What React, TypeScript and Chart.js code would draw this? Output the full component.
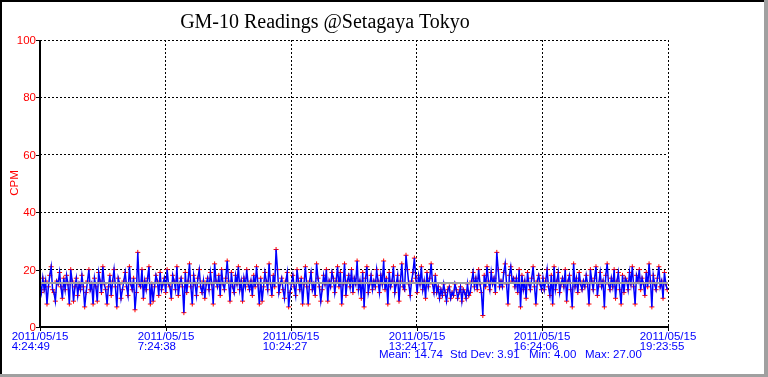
import { useEffect, useRef } from "react";
import { Chart, registerables } from "chart.js";
Chart.register(...registerables);

const TITLE = "GM-10 Readings @Setagaya Tokyo";
const Y_LABEL = "CPM";
const Y_TICKS = [0, 20, 40, 60, 80, 100];
const TICK_SECONDS = [0, 10789, 21578, 32368, 43157, 53946];
const TICK_DATES = ["2011/05/15", "2011/05/15", "2011/05/15", "2011/05/15", "2011/05/15", "2011/05/15"];
const TICK_TIMES = ["4:24:49", "7:24:38", "10:24:27", "13:24:17", "16:24:06", "19:23:55"];
const STAT_TEXTS = ["Mean: 14.74", "Std Dev: 3.91", "Min: 4.00", "Max: 27.00"];
const AVG_LINE = 15.3;
const SAMPLE_INTERVAL_S = 120;

const CPM = [
  15,12,17,13,16,8,14,18,21,13,12,9,16,15,19,14,10,17,13,18,15,8,20,16,9,14,17,11,15,13,
  18,14,7,12,16,20,13,15,8,17,14,9,19,16,12,21,15,13,8,14,18,11,16,20,14,7,17,15,10,13,
  16,19,14,11,21,15,13,17,6,12,26,15,14,20,10,16,13,17,21,8,15,9,14,18,16,11,19,13,15,17,
  12,20,15,14,10,18,16,13,21,11,15,17,14,5,19,12,16,22,14,8,18,15,11,17,20,14,12,16,10,15,
  17,13,19,15,8,22,16,14,18,11,20,15,13,17,23,16,9,19,14,12,18,15,21,13,16,9,17,14,20,15,
  13,16,11,18,14,21,15,8,17,9,14,19,16,13,22,15,11,18,14,27,20,12,15,17,13,10,16,19,7,12,
  15,18,14,11,20,16,13,17,8,15,21,14,8,16,19,13,15,11,22,17,14,9,13,18,15,20,9,16,14,19,
  17,12,16,21,14,19,8,15,22,11,16,18,14,20,12,17,15,23,13,16,10,19,7,17,21,12,15,18,13,16,
  14,20,16,12,18,15,23,13,17,8,19,14,16,21,12,15,18,9,16,22,14,13,25,20,15,11,16,19,24,17,
  12,18,15,21,13,16,10,19,14,17,22,15,12,18,12,14,10,13,11,15,12,9,13,14,10,12,11,15,13,10,
  12,14,9,13,12,10,15,11,12,16,19,14,17,13,20,15,12,4,18,14,21,16,13,19,15,17,12,26,20,14,
  16,14,19,22,15,8,18,21,16,17,14,17,12,20,7,18,13,16,10,19,15,13,17,21,14,8,16,18,15,13,
  17,13,16,20,14,11,18,8,21,13,16,19,12,15,17,14,20,9,16,18,13,7,22,14,17,12,19,15,13,16,
  14,18,15,8,20,16,13,17,21,11,15,19,14,16,7,18,22,15,13,17,14,20,10,16,19,13,8,18,12,17,
  16,13,19,15,21,14,8,18,16,20,13,17,15,11,19,14,22,16,7,18,15,13,17,21,14,16,10,19,15,13,
];

const points = CPM.map((v, i) => ({ x: i * SAMPLE_INTERVAL_S, y: v }));
const avgPoints = [
  { x: TICK_SECONDS[0], y: AVG_LINE },
  { x: TICK_SECONDS[TICK_SECONDS.length - 1], y: AVG_LINE },
];

const SANS = '"Liberation Sans", Arial, sans-serif';
const SERIF = '"Liberation Serif", "Times New Roman", serif';
const STAT_X = [379, 450, 529, 585];

const decor = {
  id: "decor",
  afterDraw(chart: any) {
    const ctx = chart.ctx as CanvasRenderingContext2D;
    const { left, right, top, bottom } = chart.chartArea;
    const xs = chart.scales.x;
    const ys = chart.scales.y;
    const W = chart.width;
    const H = chart.height;
    ctx.save();
    ctx.fillStyle = "#000";
    ctx.fillRect(0, 0, W, 2);
    ctx.fillRect(0, 0, 2, H);
    ctx.fillStyle = "#a0a0a0";
    ctx.fillRect(W - 4, 0, 4, H);
    ctx.fillRect(0, H - 3, W, 3);
    ctx.fillStyle = "#000";
    ctx.font = `20px ${SERIF}`;
    ctx.textAlign = "center";
    ctx.textBaseline = "alphabetic";
    ctx.fillText(TITLE, 325, 28);
    ctx.fillStyle = "#000";
    ctx.fillRect(left - 1, top, 2, bottom - top + 1);
    ctx.fillRect(left - 1, bottom - 1, right - left + 2, 2);
    ctx.font = `11.5px ${SANS}`;
    ctx.textAlign = "right";
    ctx.textBaseline = "middle";
    Y_TICKS.forEach((v) => {
      const y = Math.round(ys.getPixelForValue(v));
      ctx.fillStyle = "#000";
      ctx.fillRect(left - 4, y, 4, 1);
      ctx.fillStyle = "#ff0000";
      ctx.fillText(String(v), left - 4, y + 0.5);
    });
    ctx.save();
    ctx.translate(15, 183);
    ctx.rotate(-Math.PI / 2);
    ctx.textAlign = "center";
    ctx.textBaseline = "middle";
    ctx.fillStyle = "#ff0000";
    ctx.fillText(Y_LABEL, 0, 0);
    ctx.restore();
    ctx.textAlign = "left";
    ctx.textBaseline = "alphabetic";
    TICK_SECONDS.forEach((s, i) => {
      const x = Math.round(xs.getPixelForValue(s));
      ctx.fillStyle = "#000";
      ctx.fillRect(x, bottom, 1, 4);
      ctx.fillStyle = "#0000ff";
      const w = ctx.measureText(TICK_DATES[i]).width;
      const x0 = x - w / 2;
      ctx.fillText(TICK_DATES[i], x0, bottom + 13);
      ctx.fillText(TICK_TIMES[i], x0, bottom + 23);
    });
    ctx.fillStyle = "#0000ff";
    STAT_TEXTS.forEach((t, i) => {
      ctx.fillText(t, STAT_X[i], bottom + 31);
    });
    ctx.restore();
  },
};

export default function App() {
  const ref = useRef<HTMLCanvasElement | null>(null);
  useEffect(() => {
    document.body.style.margin = "0";
    const canvas = ref.current!;
    const chart = new Chart(canvas, {
      type: "line",
      data: {
        datasets: [
          { data: avgPoints, borderColor: "#a0a0a0", borderWidth: 2, pointRadius: 0, order: 0 },
          { data: points, borderColor: "#0000ff", borderWidth: 1.5, pointRadius: 0, order: 1 },
          {
            data: points,
            showLine: false,
            pointStyle: "cross",
            pointRadius: 2.5,
            pointBorderColor: "#ff0000",
            pointBorderWidth: 1,
            order: 2,
          },
        ],
      },
      options: {
        responsive: false,
        animation: false,
        events: [],
        parsing: false,
        normalized: true,
        layout: { padding: { left: 40, top: 40, right: 100, bottom: 50 } },
        plugins: { legend: { display: false }, tooltip: { enabled: false }, title: { display: false } },
        scales: {
          x: {
            type: "linear",
            min: TICK_SECONDS[0],
            max: TICK_SECONDS[TICK_SECONDS.length - 1],
            afterBuildTicks: (s: any) => {
              s.ticks = TICK_SECONDS.map((v) => ({ value: v }));
            },
            afterFit: (s: any) => {
              s.height = 0;
            },
            ticks: { display: false },
            grid: { color: "#000", lineWidth: 1, drawTicks: false },
            border: { display: false, dash: [2, 2] },
          },
          y: {
            min: 0,
            max: 100,
            afterFit: (s: any) => {
              s.width = 0;
            },
            ticks: { display: false, stepSize: 20 },
            grid: { color: "#000", lineWidth: 1, drawTicks: false },
            border: { display: false, dash: [2, 2] },
          },
        },
      },
      plugins: [decor],
    });
    return () => chart.destroy();
  }, []);
  return <canvas ref={ref} width={768} height={377} style={{ display: "block" }} />;
}
